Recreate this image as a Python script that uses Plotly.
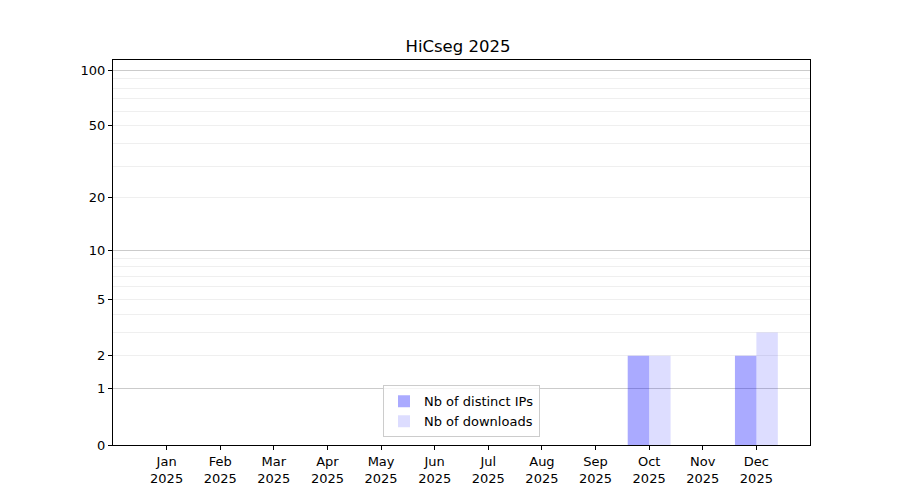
import math
import plotly.graph_objects as go

months = ["Jan", "Feb", "Mar", "Apr", "May", "Jun", "Jul", "Aug", "Sep", "Oct", "Nov", "Dec"]
year = "2025"
distinct_ips = [0, 0, 0, 0, 0, 0, 0, 0, 0, 2, 0, 2]
downloads = [0, 0, 0, 0, 0, 0, 0, 0, 0, 2, 0, 3]
y_tick_values = [0, 1, 2, 5, 10, 20, 50, 100]
minor_grid_values = [2, 3, 4, 5, 6, 7, 8, 9, 20, 30, 40, 50, 60, 70, 80, 90]
major_grid_values = [1, 10, 100]
y_top = 113.5

labels = [f"{m}<br>{year}" for m in months]
FONT = "DejaVu Sans"

fig = go.Figure()
fig.add_trace(go.Bar(x=labels, y=[v + 1 for v in distinct_ips], name="Nb of distinct IPs",
                     marker=dict(color="rgba(0,0,255,0.333)", line=dict(width=0))))
fig.add_trace(go.Bar(x=labels, y=[v + 1 for v in downloads], name="Nb of downloads",
                     marker=dict(color="rgba(0,0,255,0.133)", line=dict(width=0))))
fig.add_trace(go.Scatter(x=[labels[0]], y=[1], yaxis="y2", mode="markers",
                         marker=dict(opacity=0), showlegend=False, hoverinfo="skip"))

yrange = [0, math.log10(y_top + 1)]

fig.update_layout(
    width=900, height=500,
    margin=dict(l=105, r=98, t=52, b=63),
    paper_bgcolor="white", plot_bgcolor="white",
    font=dict(family=FONT, size=13, color="black"),
    title=dict(text="HiCseg 2025", x=0.5, xanchor="center", y=1 - 38 / 500, yanchor="middle",
               font=dict(family=FONT, size=16.5, color="black")),
    barmode="group", bargap=0.2, bargroupgap=0,
    xaxis=dict(type="category", range=[-1, 12], showgrid=False, showline=True, mirror=True,
               linecolor="black", linewidth=1, ticks="outside", ticklen=4, tickcolor="black",
               tickfont=dict(size=13), zeroline=False),
    yaxis=dict(type="log", range=yrange, tickmode="array",
               tickvals=[v + 1 for v in y_tick_values], ticktext=[str(v) for v in y_tick_values],
               showgrid=False, showline=True, mirror=True, linecolor="black", linewidth=1,
               ticks="outside", ticklen=4, tickcolor="black", tickfont=dict(size=13),
               zeroline=False,
               minor=dict(tickmode="array", tickvals=[v + 1 for v in minor_grid_values],
                          showgrid=True, gridcolor="#efefef", gridwidth=1, ticklen=0)),
    yaxis2=dict(type="log", range=yrange, overlaying="y", tickmode="array",
                tickvals=[v + 1 for v in major_grid_values], showticklabels=False,
                showgrid=True, gridcolor="#cbcbcb", gridwidth=1, ticks="", zeroline=False,
                showline=False),
    legend=dict(x=0.5, xanchor="center", y=0.02, yanchor="bottom",
                bgcolor="rgba(255,255,255,0.8)", bordercolor="#cccccc", borderwidth=1,
                font=dict(family=FONT, size=13), tracegroupgap=0),
    showlegend=True,
)

fig.write_html("out.html")
